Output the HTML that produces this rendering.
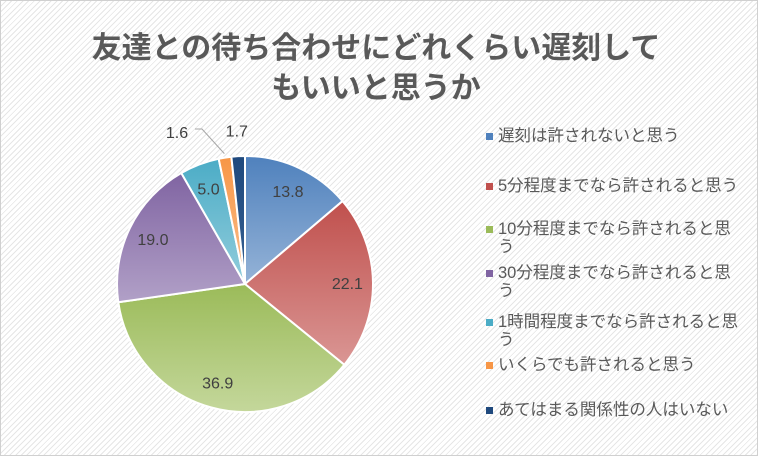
<!DOCTYPE html>
<html><head><meta charset="utf-8"><style>
body{margin:0}
#c{width:758px;height:456px;position:relative;overflow:hidden;font-family:"Liberation Sans","Noto Sans CJK JP",sans-serif;
background:#fff repeating-linear-gradient(135deg,#fff 0 3px,#e6e6e6 3px 4px);border:1px solid #d0d0d0;box-sizing:border-box}
.t{position:absolute;left:0;width:750px;text-align:center;font-size:30px;font-weight:bold;color:#595959}
.lg{position:absolute;left:485px;width:256px;font-size:16.5px;color:#595959;line-height:18px}
.lg i{position:absolute;left:0;top:6px;width:7px;height:7px}
.lg span{display:block;padding-left:12px;word-break:break-all}
</style></head><body>
<div id="c">
<div class="t" style="top:22px">友達との待ち合わせにどれくらい遅刻して</div>
<div class="t" style="top:62px">もいいと思うか</div>
<svg id="s" width="758" height="456" style="position:absolute;left:0;top:0"></svg>
<div id="lg"></div>
</div>
<script>
const categories=["遅刻は許されないと思う","5分程度までなら許されると思う","10分程度までなら許されると思う","30分程度までなら許されると思う","1時間程度までなら許されると思う","いくらでも許されると思う","あてはまる関係性の人はいない"];
const values=[13.8,22.1,36.9,19.0,5.0,1.6,1.7];
const labels=["13.8","22.1","36.9","19.0","5.0","1.6","1.7"];
const colors=[["#4f81bd","#95b3d7"],["#c0504d","#da9694"],["#9bbb59","#c4d79b"],["#8064a2","#b1a0c7"],["#4bacc6","#92cddc"],["#f79646","#fabf8f"],["#1f497d","#366092"]];
const legendTops=[126,176,219,263,312,355,400];
const NS="http://www.w3.org/2000/svg",s=document.getElementById('s');
const cx=244,cy=283,R=128;
const total=values.reduce((a,b)=>a+b,0);
const defs=document.createElementNS(NS,'defs');s.appendChild(defs);
let acc=0;
function pt(f,r){const a=f*2*Math.PI;return [cx+r*Math.sin(a),cy-r*Math.cos(a)];}
values.forEach((v,i)=>{
 const g=document.createElementNS(NS,'linearGradient');g.id='g'+i;g.setAttribute('x1','0');g.setAttribute('y1','0');g.setAttribute('x2','0');g.setAttribute('y2','1');
 g.innerHTML=`<stop offset="0" stop-color="${colors[i][0]}"/><stop offset="1" stop-color="${colors[i][1]}"/>`;defs.appendChild(g);
 const f0=acc/total,f1=(acc+v)/total;acc+=v;
 const [x0,y0]=pt(f0,R),[x1,y1]=pt(f1,R);
 const p=document.createElementNS(NS,'path');
 p.setAttribute('d',`M${cx},${cy}L${x0},${y0}A${R},${R} 0 ${f1-f0>0.5?1:0} 1 ${x1},${y1}Z`);
 p.setAttribute('fill',`url(#g${i})`);p.setAttribute('stroke','#fff');p.setAttribute('stroke-width','2');
 
 
 s.appendChild(p);
 const fm=(f0+f1)/2;let lx,ly;
 if(v<3){
   if(i===6){[lx,ly]=pt(fm,R*1.2);}
   else{lx=cx-68;ly=cy-152;const [ax,ay]=pt(fm,R+4);
     const l=document.createElementNS(NS,'polyline');l.setAttribute('points',`${lx+18},${ly-3} ${lx+25},${ly-3} ${ax},${ay}`);l.setAttribute('fill','none');l.setAttribute('stroke','#a6a6a6');
     
     
     s.appendChild(l);}
 } else {[lx,ly]=pt(fm,R*0.8);}
 const t=document.createElementNS(NS,'text');t.setAttribute('x',lx);t.setAttribute('y',ly+6);t.setAttribute('text-anchor','middle');
 t.setAttribute('font-size','16');t.setAttribute('fill','#404040');t.textContent=labels[i];
 
 
 s.appendChild(t);
});
const lg=document.getElementById('lg');
categories.forEach((c,i)=>{
 const d=document.createElement('div');d.className='lg';d.style.top=legendTops[i]+'px';
 d.innerHTML=`<i style="background:${colors[i][0]}"></i><span>${c}</span>`;
 
 
 lg.appendChild(d);
});
</script>
</body></html>
